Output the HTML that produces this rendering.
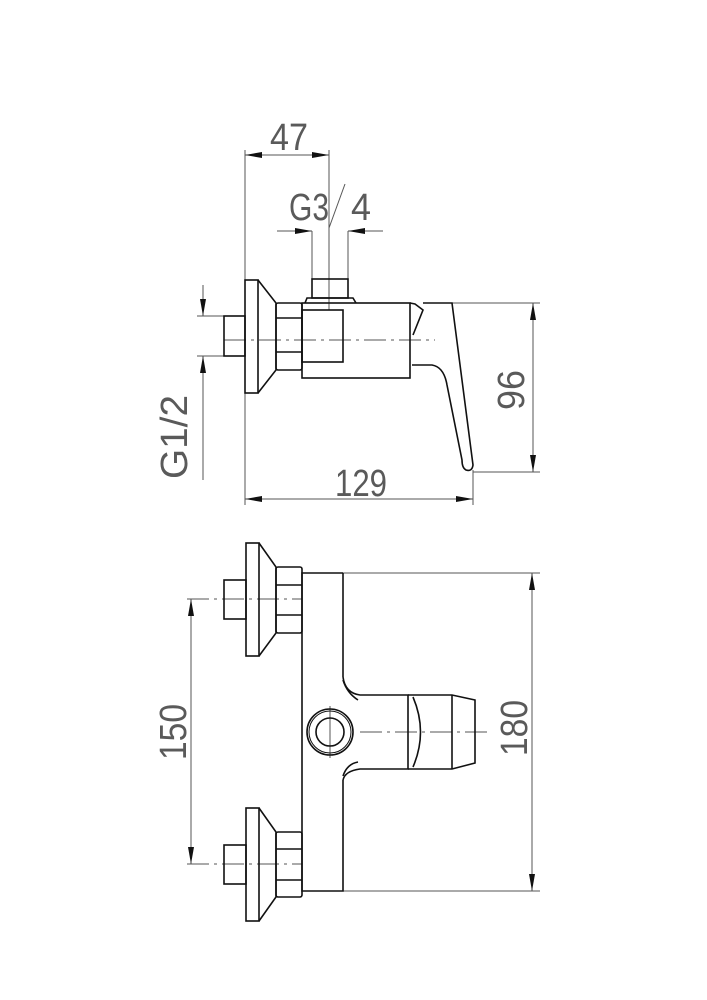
<!DOCTYPE html>
<html><head><meta charset="utf-8"><style>html,body{margin:0;padding:0;background:#fff}svg{display:block}text{font-family:"Liberation Sans",sans-serif;fill:#5a5a5a;font-size:38px}</style></head><body>
<svg width="707" height="1000" viewBox="0 0 707 1000" xmlns="http://www.w3.org/2000/svg">
<g fill="none" stroke="#555" stroke-width="1">
<line x1="245" y1="150" x2="245" y2="505"/>
<line x1="329" y1="150" x2="329" y2="310"/>
<line x1="245" y1="155" x2="329" y2="155"/>
<line x1="277" y1="231" x2="312" y2="231"/>
<line x1="383" y1="231" x2="348" y2="231"/>
<line x1="312" y1="231" x2="312" y2="279"/>
<line x1="348" y1="231" x2="348" y2="279"/>
<line x1="329" y1="228" x2="345" y2="184"/>
<line x1="203" y1="285" x2="203" y2="316"/>
<line x1="203" y1="480" x2="203" y2="356"/>
<line x1="197" y1="316" x2="224" y2="316"/>
<line x1="197" y1="356" x2="224" y2="356"/>
<line x1="452" y1="303" x2="540" y2="303"/>
<line x1="473" y1="472" x2="540" y2="472"/>
<line x1="533" y1="303" x2="533" y2="472"/>
<line x1="473" y1="470" x2="473" y2="505"/>
<line x1="245" y1="499" x2="473" y2="499"/>
<line x1="224" y1="340" x2="435" y2="340" stroke-dasharray="22,5,3,5"/>
<line x1="187" y1="599" x2="302" y2="599" stroke-dasharray="22,5,3,5"/>
<line x1="187" y1="864" x2="302" y2="864" stroke-dasharray="22,5,3,5"/>
<line x1="191" y1="599" x2="191" y2="864"/>
<line x1="343" y1="573" x2="540" y2="573"/>
<line x1="343" y1="891" x2="540" y2="891"/>
<line x1="532" y1="573" x2="532" y2="891"/>
<line x1="360" y1="732" x2="490" y2="732" stroke-dasharray="22,5,3,5"/>
<line x1="330" y1="706" x2="330" y2="758"/>
</g>
<g fill="#111" stroke="none">
<polygon points="245,155 262,152 262,158"/>
<polygon points="329,155 312,152 312,158"/>
<polygon points="312,231 295,228 295,234"/>
<polygon points="348,231 365,228 365,234"/>
<polygon points="203,316 200,299 206,299"/>
<polygon points="203,356 200,373 206,373"/>
<polygon points="533,303 530,320 536,320"/>
<polygon points="533,472 530,455 536,455"/>
<polygon points="245,499 262,496 262,502"/>
<polygon points="473,499 456,496 456,502"/>
<polygon points="191,599 188,616 194,616"/>
<polygon points="191,864 188,847 194,847"/>
<polygon points="532,573 529,590 535,590"/>
<polygon points="532,891 529,874 535,874"/>
</g>
<g fill="none" stroke="#111" stroke-width="1.6">
<rect x="224" y="316" width="21" height="40"/>
<rect x="245" y="280" width="13" height="113"/>
<path d="M258,280L276,303L276,370L258,393"/>
<rect x="276" y="303" width="26" height="67" rx="2"/>
<line x1="276" y1="318" x2="302" y2="318"/><line x1="276" y1="352" x2="302" y2="352"/>
<rect x="302" y="303" width="108" height="75"/>
<rect x="302" y="310" width="41" height="52"/>
<rect x="312" y="279" width="36" height="19"/>
<path d="M305,303L307,298L353,298L356,303"/>
<path d="M410,303L415,304L423,310L413,335"/>
<path d="M423,303L452,303L473,465Q472,472 466,470Q462,468 462,460L447,385Q444,367 432,365L412,365"/>
<rect x="224" y="580" width="22" height="39"/>
<rect x="246" y="543" width="13" height="113"/>
<path d="M259,543L276,567L276,633L259,656"/>
<rect x="276" y="567" width="26" height="66" rx="2"/>
<line x1="276" y1="585" x2="302" y2="585"/><line x1="276" y1="615" x2="302" y2="615"/>
<rect x="224" y="845" width="22" height="39"/>
<rect x="246" y="808" width="13" height="113"/>
<path d="M259,808L276,832L276,897L259,921"/>
<rect x="276" y="832" width="26" height="65" rx="2"/>
<line x1="276" y1="849" x2="302" y2="849"/><line x1="276" y1="880" x2="302" y2="880"/>
<path d="M343,573L302,573L302,891L343,891L343,780"/>
<path d="M343,573L343,677"/>
<path d="M343,677Q345,693 360,695L408,695L408,769L360,769Q345,771 343,780"/>
<path d="M343,680Q347,693 358,700"/>
<path d="M343,776Q347,764 358,762"/>
<path d="M408,695L452,695L475,700L475,763L452,769L408,769"/>
<line x1="452" y1="695" x2="452" y2="769"/>
<path d="M413,697Q428,732 413,767"/>
<circle cx="330" cy="732" r="23"/>
<circle cx="330" cy="732" r="21" stroke-width="1"/>
<circle cx="330" cy="732" r="14"/>
</g>
<text x="270" y="150" textLength="38" lengthAdjust="spacingAndGlyphs">47</text>
<text x="289" y="220" textLength="40" lengthAdjust="spacingAndGlyphs">G3</text>
<text x="351" y="220" textLength="20" lengthAdjust="spacingAndGlyphs">4</text>
<text x="335" y="496" textLength="52" lengthAdjust="spacingAndGlyphs">129</text>
<text transform="translate(524,410) rotate(-90)" textLength="40" lengthAdjust="spacingAndGlyphs">96</text>
<text transform="translate(187,479) rotate(-90)" textLength="84" lengthAdjust="spacingAndGlyphs">G1/2</text>
<text transform="translate(186,760) rotate(-90)" textLength="56" lengthAdjust="spacingAndGlyphs">150</text>
<text transform="translate(527,756) rotate(-90)" textLength="56" lengthAdjust="spacingAndGlyphs">180</text>
</svg>
</body></html>
